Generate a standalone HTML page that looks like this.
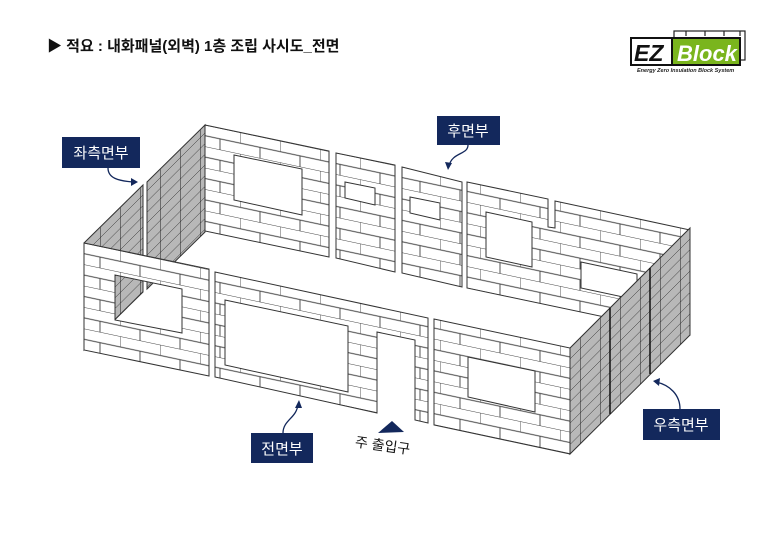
<!DOCTYPE html>
<html><head><meta charset="utf-8"><style>
html,body{margin:0;padding:0;background:#fff;}
body{width:780px;height:540px;overflow:hidden;position:relative;font-family:"Liberation Sans","Noto Sans CJK KR",sans-serif;}
</style></head><body>
<svg width="780" height="540" viewBox="0 0 780 540" xmlns="http://www.w3.org/2000/svg" style="position:absolute;left:0;top:0">
<defs>
<pattern id="pF" patternUnits="userSpaceOnUse" width="40" height="21.4" patternTransform="translate(0,225.1) skewY(12)">
<rect width="40" height="21.4" fill="#fff"/>
<path d="M0,0H40M0,10.7H40M0,0V10.7M20,10.7V21.4" stroke="#444" stroke-width="0.9" fill="none"/>
</pattern>
<pattern id="pB" patternUnits="userSpaceOnUse" width="40" height="21.4" patternTransform="translate(0,81.4) skewY(12)">
<rect width="40" height="21.4" fill="#fff"/>
<path d="M0,0H40M0,10.7H40M0,0V10.7M20,10.7V21.4" stroke="#444" stroke-width="0.9" fill="none"/>
</pattern>
<pattern id="pL" patternUnits="userSpaceOnUse" width="20" height="10.7" patternTransform="translate(0,327) skewY(-45)">
<rect width="20" height="10.7" fill="#b8b8b8"/>
<path d="M0,0H20M0,0V10.7" stroke="#222" stroke-width="1" fill="none"/>
</pattern>
<pattern id="pR" patternUnits="userSpaceOnUse" width="20" height="10.7" patternTransform="translate(0,918) skewY(-45)">
<rect width="20" height="10.7" fill="#b8b8b8"/>
<path d="M0,0H20M0,0V10.7" stroke="#222" stroke-width="1" fill="none"/>
</pattern>
</defs>

<!-- title -->
<text x="47" y="51" font-size="15" font-weight="bold" fill="#111" font-family="Liberation Sans,Noto Sans CJK KR,sans-serif">▶ 적요 : 내화패널(외벽) 1층 조립 사시도_전면</text>

<!-- logo -->
<rect x="674" y="31" width="71" height="29" fill="#fff" stroke="#222" stroke-width="1.2"/>
<path d="M686,31v5M705,31v5M724,31v5M740,31v5" stroke="#222" stroke-width="1.2"/>
<rect x="631" y="38" width="41" height="27" fill="#fff" stroke="#111" stroke-width="2"/>
<rect x="672" y="38" width="68" height="27" fill="#7ab51d" stroke="#111" stroke-width="2"/>
<text x="634" y="61" font-size="23" font-weight="bold" font-style="italic" fill="#111">EZ</text>
<text x="677" y="61" font-size="22" font-weight="bold" font-style="italic" fill="#fff">Block</text>
<text x="637" y="72" font-size="5.5" font-weight="bold" font-style="italic" fill="#222">Energy Zero Insulation Block System</text>

<g stroke="#333" stroke-width="1" fill-rule="evenodd">
<!-- back panels -->
<path fill="url(#pB)" d="M205,125 L329,151 L329,257 L205,231 Z M234,155 L302,169 L302,215 L234,200 Z"/>
<path fill="url(#pB)" d="M336,153 L395,165 L395,272 L336,258 Z M345,182 L375,188 L375,205 L345,198 Z"/>
<path fill="url(#pB)" d="M402,167 L462,182 L462,287 L402,273 Z M410,197 L440,203 L440,220 L410,213 Z"/>
<path fill="url(#pB)" d="M467,182 L548,199 L548,227 L555,228 L555,201 L690,230 L690,335 L467,288 Z M486,212 L532,222 L532,267 L486,257 Z M581,262 L637,274 L637,300 L581,288 Z"/>
<!-- left wall -->
<path fill="url(#pL)" d="M84,243 L143,185 L143,292 L84,350 Z"/>
<path fill="url(#pL)" d="M147,182 L205,125 L205,232 L147,289 Z"/>
<!-- front panels -->
<path fill="url(#pF)" d="M84,243 L209,269 L209,376 L84,350 Z M115,275 L182,289 L182,333 L115,320 Z"/>
<path fill="url(#pF)" d="M215,272 L428,318 L428,423 L415,420 L415,340 L377,332 L377,413 L215,377 Z M225,300 L348,326 L348,392 L225,365 Z"/>
<path fill="url(#pF)" d="M434,319 L570,348 L570,454 L434,425 Z M468,357 L535,371 L535,412 L468,397 Z"/>
<!-- right wall -->
<path fill="url(#pR)" d="M570,348 L690,228 L690,335 L570,454 Z"/>
</g>
<path d="M610,308V414M650,268V374" stroke="#111" stroke-width="1.5"/>

<!-- labels -->
<g fill="#13285c">
<rect x="62" y="137" width="78" height="31"/>
<rect x="437" y="116" width="63" height="29"/>
<rect x="251" y="433" width="62" height="30"/>
<rect x="643" y="409" width="77" height="31"/>
<polygon points="378,433 392,421 404,432"/>
</g>
<g fill="#fff" font-size="15" text-anchor="middle">
<text x="101" y="158">좌측면부</text>
<text x="468" y="136">후면부</text>
<text x="282" y="454">전면부</text>
<text x="681" y="430">우측면부</text>
</g>
<text x="355" y="450" font-size="14" fill="#111" transform="rotate(8 380 445)">주 출입구</text>

<!-- arrows -->
<g stroke="#13285c" stroke-width="1.3" fill="none">
<path d="M108,168 C108,178 118,181 134,182"/>
<path d="M468,145 C468,155 452,152 449,166"/>
<path d="M283,433 C283,420 297,418 298,404"/>
<path d="M680,409 C680,395 670,385 656,382"/>
</g>
<g fill="#13285c">
<polygon points="138,182 131,178 131,186"/>
<polygon points="448,170 445,162 452,163"/>
<polygon points="299,400 295,408 302,408"/>
<polygon points="653,381 660,378 659,386"/>
</g>
</svg>
</body></html>
